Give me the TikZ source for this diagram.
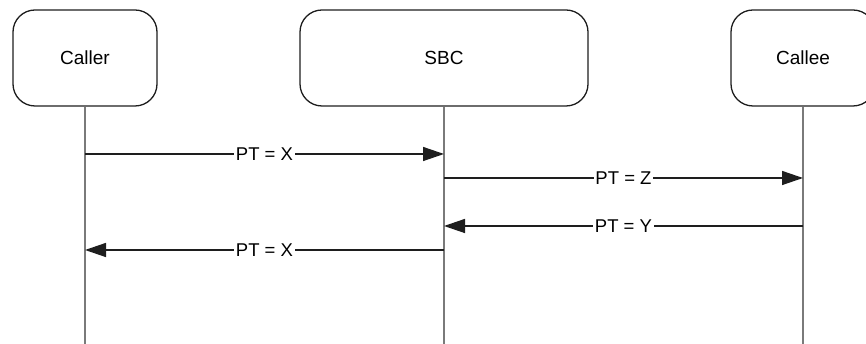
\documentclass[tikz,border=0pt]{standalone}
\usepackage{fontspec}
\setmainfont{Liberation Sans}
\usetikzlibrary{positioning, arrows.meta}
\definecolor{lineclr}{HTML}{1E1E1E}
\definecolor{lifeclr}{HTML}{7A7A7A}
\tikzset{
    actor/.style={
        rectangle, rounded corners=22pt, draw=lineclr, line width=1.3pt,
        fill=white, minimum width=144pt, minimum height=96pt,
        font=\fontsize{19}{21}\selectfont
    },
    lifeline/.style={
        draw=lifeclr, line width=2pt
    },
    mm/.style={
        draw=lineclr, line width=1.4pt, -{Triangle[length=21pt, width=14pt]}
    },
    tag/.style={
        fill=white, inner sep=1.5pt, text=black,
        font=\fontsize{18.5}{20}\selectfont
    }
}

\begin{document}
\begin{tikzpicture}[x=1pt, y=1pt]
        \useasboundingbox (0,0) rectangle (866,344);

        % Participants

        \node[actor]                        (caller)    at (85,286)  {Caller};
        \node[actor, minimum width=288pt]   (sbc)       at (444,286) {SBC};
        \node[actor]                        (callee)    at (803,286) {Callee};

        % Lifelines

        \coordinate (callerend) at (85,0);
        \coordinate (sbcend)    at (444,0);
        \coordinate (calleeend) at (803,0);

        \path (caller.south) edge[lifeline] (callerend)
                (sbc.south) edge[lifeline] (sbcend)
                (callee.south) edge[lifeline] (calleeend);

        % Messages

        \coordinate (callerA) at (85,190);
        \coordinate (sbcA)    at (444,190);
        \coordinate (sbcB)    at (444,166);
        \coordinate (calleeB) at (803,166);
        \coordinate (calleeC) at (803,118);
        \coordinate (sbcC)    at (444,118);
        \coordinate (sbcD)    at (444,94);
        \coordinate (callerD) at (85,94);

        \path (callerA) edge[mm] node[tag] {PT = X} (sbcA)
                (sbcB) edge[mm] node[tag] {PT = Z} (calleeB)
                (calleeC) edge[mm] node[tag] {PT = Y} (sbcC)
                (sbcD) edge[mm] node[tag] {PT = X} (callerD);
    \end{tikzpicture}
\end{document}
